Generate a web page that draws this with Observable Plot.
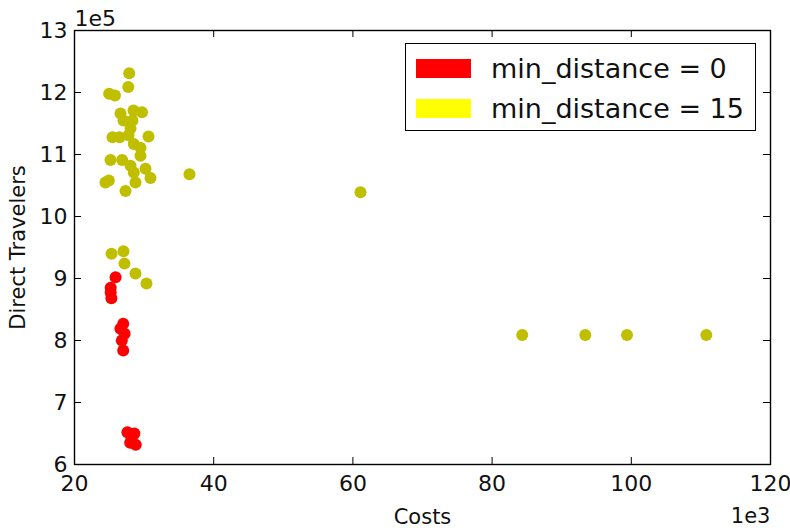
<!DOCTYPE html>
<html>
<head>
<meta charset="utf-8">
<script src="https://cdn.jsdelivr.net/npm/d3@7"></script>
<script src="https://cdn.jsdelivr.net/npm/@observablehq/plot@0.6"></script>
<style>
  html, body { margin: 0; padding: 0; background: #fff; }
  #wrap { position: relative; width: 790px; height: 528px; font-family: "DejaVu Sans", sans-serif; }
  #legend { position: absolute; left: 405px; top: 43px; width: 349px; height: 86px; border: 1.4px solid #000; background: #fff; }
  .item { position: absolute; left: 10px; display: flex; align-items: center; }
  .patch { width: 55px; height: 19px; }
  .lab { margin-left: 20px; font-size: 27px; color: #111; line-height: 1; }
</style>
</head>
<body>
<div id="wrap"></div>
<script>
// Costs in units of 1e3, Direct Travelers in units of 1e5
const costs0 = [25.9, 25.2, 25.2, 25.3, 27.0, 26.6, 27.2, 26.8, 27.0, 27.6, 28.6, 28.2, 28.0, 28.8];
const travelers0 = [9.02, 8.85, 8.77, 8.68, 8.27, 8.19, 8.11, 8.00, 7.84, 6.52, 6.50, 6.42, 6.35, 6.32];

const costs15 = [27.86, 27.72, 24.98, 25.81, 26.61, 28.48, 29.70, 27.04, 28.33, 28.05,
  25.46, 26.47, 27.76, 30.63, 28.52, 29.48, 29.48, 25.17, 26.85, 28.05,
  30.20, 28.52, 24.93, 24.45, 30.92, 28.76, 27.33, 36.52, 61.09, 84.33,
  93.39, 99.38, 110.78, 25.32, 27.04, 27.18, 28.76, 30.34];
const travelers15 = [12.31, 12.09, 11.98, 11.95, 11.66, 11.71, 11.68, 11.55, 11.55, 11.42,
  11.28, 11.28, 11.31, 11.29, 11.17, 11.11, 10.98, 10.91, 10.91, 10.82,
  10.77, 10.71, 10.58, 10.55, 10.62, 10.55, 10.41, 10.68, 10.39, 8.09,
  8.09, 8.09, 8.09, 9.40, 9.44, 9.24, 9.08, 8.92];

const seriesNames = ["min_distance = 0", "min_distance = 15"];
const markerColors = ["#ff0000", "#bfbf00"];
const legendColors = ["#ff0000", "#ffff00"];

const xTicks = [20, 40, 60, 80, 100, 120];
const yTicks = [6, 7, 8, 9, 10, 11, 12, 13];
const xLabel = "Costs", yLabel = "Direct Travelers";
const xOffsetText = "1e3", yOffsetText = "1e5";

const data = [
  ...costs0.map((c, i) => ({cost: c, travelers: travelers0[i], series: seriesNames[0]})),
  ...costs15.map((c, i) => ({cost: c, travelers: travelers15[i], series: seriesNames[1]}))
];

const W = 790, H = 528, mL = 74, mR = 20, mT = 30, mB = 64;
const fw = W - mL - mR, fh = H - mT - mB, tl = 7;

const chart = Plot.plot({
  width: W, height: H,
  marginLeft: mL, marginRight: mR, marginTop: mT, marginBottom: mB,
  style: {fontFamily: "DejaVu Sans, sans-serif", color: "#111", background: "#fff"},
  x: {domain: [20, 120]},
  y: {domain: [6, 13]},
  color: {domain: seriesNames, range: markerColors},
  marks: [
    Plot.dot(data, {x: "cost", y: "travelers", fill: "series", r: 6, stroke: null}),
    Plot.ruleX(xTicks, {x: d => d, insetTop: fh - tl, stroke: "#000"}),
    Plot.ruleX(xTicks, {x: d => d, insetBottom: fh - tl, stroke: "#000"}),
    Plot.ruleY(yTicks, {y: d => d, insetRight: fw - tl, stroke: "#000"}),
    Plot.ruleY(yTicks, {y: d => d, insetLeft: fw - tl, stroke: "#000"}),
    Plot.frame({stroke: "#000", strokeWidth: 1.4}),
    Plot.axisX({ticks: xTicks, tickSize: 0, tickPadding: 11, fontSize: 22, label: null, tickFormat: d => String(d)}),
    Plot.axisY({ticks: yTicks, tickSize: 0, tickPadding: 7, fontSize: 22, label: null, tickFormat: d => String(d)}),
    Plot.text([xLabel], {text: d => d, frameAnchor: "bottom", textAnchor: "middle", dy: 59, fontSize: 21}),
    Plot.text([xOffsetText], {text: d => d, frameAnchor: "bottom-right", textAnchor: "end", dy: 58, fontSize: 21}),
    Plot.text([yOffsetText], {text: d => d, frameAnchor: "top-left", textAnchor: "start", dy: -20, fontSize: 22}),
    Plot.text([yLabel], {text: d => d, frameAnchor: "left", textAnchor: "middle", lineAnchor: "middle", rotate: -90, dx: -56, fontSize: 21})
  ]
});

const wrap = document.getElementById("wrap");
wrap.appendChild(chart);

const legend = document.createElement("div");
legend.id = "legend";
seriesNames.forEach((name, i) => {
  const item = document.createElement("div");
  item.className = "item";
  item.style.top = (11 + i * 40) + "px";
  const patch = document.createElement("div");
  patch.className = "patch";
  patch.style.background = legendColors[i];
  const lab = document.createElement("span");
  lab.className = "lab";
  lab.textContent = name;
  item.appendChild(patch);
  item.appendChild(lab);
  legend.appendChild(item);
});
wrap.appendChild(legend);
</script>
</body>
</html>
